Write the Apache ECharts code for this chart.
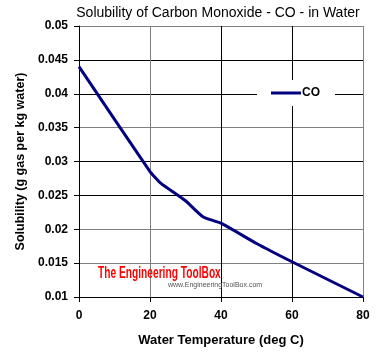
<!DOCTYPE html>
<html>
<head>
<meta charset="utf-8">
<script src="https://cdn.jsdelivr.net/npm/echarts@6/dist/echarts.min.js"></script>
<style>
html,body{margin:0;padding:0;background:#fff;}
#c{width:388px;height:363px;}
</style>
</head>
<body>
<div id="c"></div>
<script>
// Data
var temperatures = [0, 20, 23, 30, 35, 40, 50, 60, 80];
var solubilityCO = [0.044, 0.0285, 0.0268, 0.0242, 0.0218, 0.0209, 0.0179, 0.0152, 0.0100];
var xTicks = [0, 20, 40, 60, 80];
var yTicks = [0.01, 0.015, 0.02, 0.025, 0.03, 0.035, 0.04, 0.045, 0.05];
var seriesName = 'CO';
var titleText = 'Solubility of Carbon Monoxide - CO - in Water';
var xName = 'Water Temperature (deg C)';
var yName = 'Solubility (g gas per kg water)';

var chart = echarts.init(document.getElementById('c'), null, {renderer: 'canvas'});
var FONT = 'Liberation Sans, Arial, sans-serif';
var points = temperatures.map(function (t, i) { return [t, solubilityCO[i]]; });

chart.setOption({
  animation: false,
  backgroundColor: '#fff',
  title: {
    text: titleText,
    left: 213, top: 1, textAlign: 'center',
    textStyle: {fontFamily: FONT, fontSize: 14, fontWeight: 'normal', color: '#000'}
  },
  legend: {
    data: [seriesName],
    left: 257, top: 80,
    padding: [7, 15, 7, 14],
    backgroundColor: '#fff',
    itemWidth: 30, itemHeight: 3, itemGap: 0,
    icon: 'rect',
    textStyle: {fontFamily: FONT, fontSize: 12, fontWeight: 'bold', color: '#000', padding: [0, 0, 0, -4]}
  },
  grid: {left: 79, right: 25, top: 26, bottom: 66, containLabel: false},
  graphic: [
    {type: 'text', left: 98, top: 265, z: 1, scaleX: 0.6,
     style: {text: 'The Engineering ToolBox', fill: '#ff0000', font: 'bold 17px "Liberation Sans", Arial, sans-serif'}},
    {type: 'text', left: 168, top: 282, z: 1,
     style: {text: 'www.EngineeringToolBox.com', fill: '#555', font: '7px "Liberation Sans", Arial, sans-serif'}}
  ],
  xAxis: {
    type: 'value', min: xTicks[0], max: xTicks[xTicks.length - 1], interval: 20,
    name: xName, nameLocation: 'middle', nameGap: 37,
    nameTextStyle: {fontFamily: FONT, fontSize: 13, fontWeight: 'bold', color: '#000'},
    axisLine: {show: true, lineStyle: {color: '#000', width: 1}},
    axisTick: {show: true, length: 5, lineStyle: {color: '#000'}},
    axisLabel: {fontFamily: FONT, fontSize: 12, fontWeight: 'bold', color: '#000', margin: 13},
    splitLine: {show: true, lineStyle: {color: ['#000', '#808080', '#000', '#000', '#808080'], width: 1}}
  },
  yAxis: {
    type: 'value', min: yTicks[0], max: yTicks[yTicks.length - 1], interval: 0.005,
    name: yName, nameLocation: 'middle', nameGap: 44,
    nameTextStyle: {fontFamily: FONT, fontSize: 12.5, fontWeight: 'bold', color: '#000'},
    axisLine: {show: true, lineStyle: {color: '#000', width: 1}},
    axisTick: {show: true, length: 5, lineStyle: {color: '#000'}},
    axisLabel: {fontFamily: FONT, fontSize: 12, fontWeight: 'bold', color: '#000', margin: 11,
      formatter: function (v) {
        for (var i = 0; i < yTicks.length; i++) { if (Math.abs(yTicks[i] - v) < 1e-9) return String(yTicks[i]); }
        return '';
      }},
    splitLine: {show: true, lineStyle: {color: ['#000', '#808080', '#808080', '#000', '#000', '#808080', '#000', '#000', '#808080'], width: 1}}
  },
  series: [{
    name: seriesName, type: 'line', data: points,
    showSymbol: false, smooth: 0.15,
    lineStyle: {color: '#000080', width: 3},
    itemStyle: {color: '#000080'},
    z: 3
  }]
});
</script>
</body>
</html>
